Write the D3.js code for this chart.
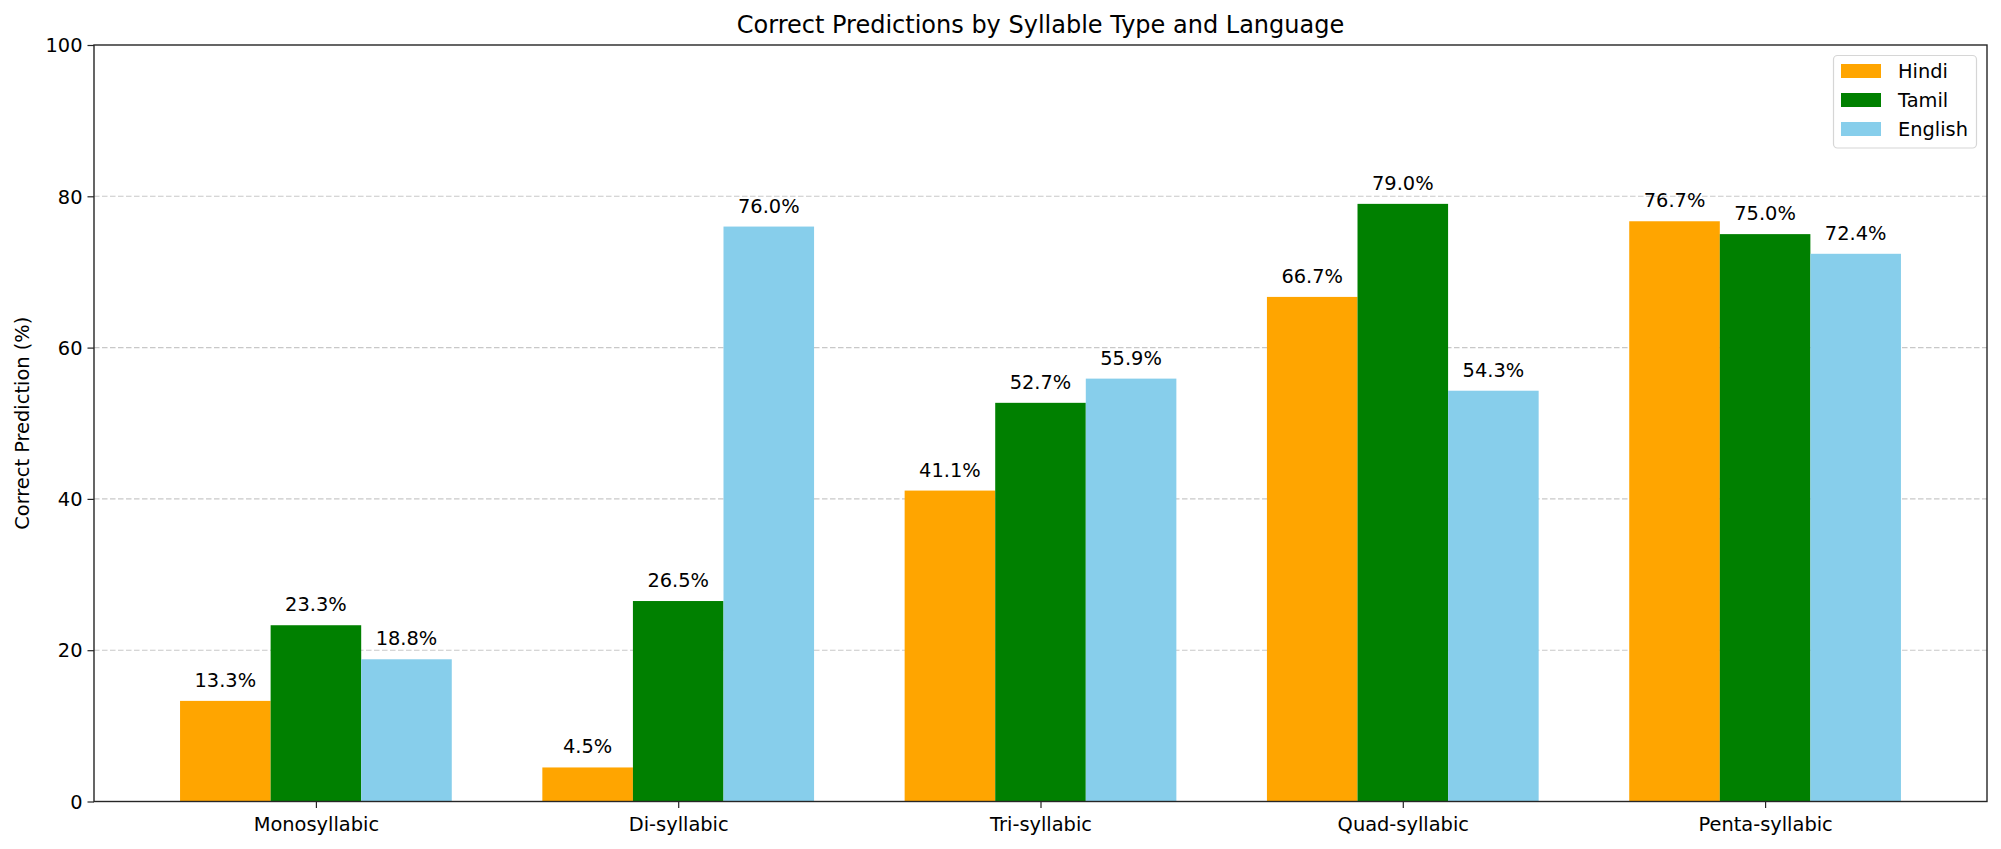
<!DOCTYPE html>
<html><head><meta charset="utf-8">
<script src="https://cdn.jsdelivr.net/npm/d3@7"></script>
<style>body{margin:0;background:#fff;} text{font-family:"DejaVu Sans",sans-serif;}</style>
</head><body>
<svg id="chart" width="2001" height="849"></svg>
<script>
const categories = ["Monosyllabic","Di-syllabic","Tri-syllabic","Quad-syllabic","Penta-syllabic"];
const seriesNames = ["Hindi","Tamil","English"];
const hindi = [13.3, 4.5, 41.1, 66.7, 76.7];
const tamil = [23.3, 26.5, 52.7, 79.0, 75.0];
const english = [18.8, 76.0, 55.9, 54.3, 72.4];
const colors = ["#FFA500","#008000","#87CEEB"];
const yTicks = [0,20,40,60,80,100];
const title = "Correct Predictions by Syllable Type and Language";
const yLabel = "Correct Prediction (%)";

const series = [hindi, tamil, english];
const svg = d3.select("#chart");
const L = 94, R = 1987, T = 45, B = 801.5;
const barW = 0.25;
const x = d3.scaleLinear().domain([-0.6125, 4.6125]).range([L, R]);
const y = d3.scaleLinear().domain([0, 100]).range([B, T]);
const fs = 19.4;

// grid
svg.append("g").selectAll("line").data(yTicks.filter(d => d > 0 && d < 100)).join("line")
  .attr("x1", L).attr("x2", R).attr("y1", d => y(d)).attr("y2", d => y(d))
  .attr("stroke", "#b0b0b0").attr("stroke-opacity", 0.7).attr("stroke-width", 1.1)
  .attr("stroke-dasharray", "5.5,2.5");

// bars
series.forEach((vals, si) => {
  const off = (si - 1) * barW;
  const g = svg.append("g");
  g.selectAll("rect").data(vals).join("rect")
    .attr("x", (d, i) => x(i + off - barW / 2))
    .attr("width", (d, i) => x(i + off + barW / 2) - x(i + off - barW / 2))
    .attr("y", d => y(d)).attr("height", d => B - y(d))
    .attr("fill", colors[si]);
  g.selectAll("text").data(vals).join("text")
    .attr("x", (d, i) => x(i + off)).attr("y", d => y(d) - 14)
    .attr("text-anchor", "middle").attr("font-size", fs).attr("fill", "#000")
    .text(d => d.toFixed(1) + "%");
});

// axes
const xAxis = d3.axisBottom(x).tickValues(d3.range(categories.length)).tickFormat(i => categories[i])
  .tickSize(6.5).tickPadding(5);
const gx = svg.append("g").attr("transform", `translate(0,${B})`).call(xAxis);
const yAxis = d3.axisLeft(y).tickValues(yTicks).tickSize(6.5).tickPadding(5);
const gy = svg.append("g").attr("transform", `translate(${L},0)`).call(yAxis);
[gx, gy].forEach(g => {
  g.select(".domain").remove();
  g.selectAll("line").attr("stroke", "#262626").attr("stroke-width", 1.2);
  g.selectAll("text").attr("font-size", fs).attr("fill", "#000").attr("font-family", "DejaVu Sans");
});
gx.selectAll("text").attr("dy", "0.95em");
gy.selectAll("text").attr("dy", "0.35em");

// frame
svg.append("rect").attr("x", L).attr("y", T).attr("width", R - L).attr("height", B - T)
  .attr("fill", "none").attr("stroke", "#262626").attr("stroke-width", 1.4);

// title
svg.append("text").attr("x", (L + R) / 2).attr("y", T - 12).attr("text-anchor", "middle")
  .attr("font-size", 24).attr("fill", "#000").text(title);
// y label
svg.append("text").attr("transform", `translate(29,${(T + B) / 2}) rotate(-90)`)
  .attr("text-anchor", "middle").attr("font-size", fs).attr("fill", "#000").text(yLabel);

// legend
const lg = svg.append("g");
lg.append("rect").attr("x", 1833.5).attr("y", 55.5).attr("width", 143).attr("height", 92.5)
  .attr("rx", 4).attr("fill", "#fff").attr("fill-opacity", 0.8).attr("stroke", "#d6d6d6").attr("stroke-width", 1.2);
seriesNames.forEach((n, i) => {
  lg.append("rect").attr("x", 1841).attr("y", 64 + i * 29).attr("width", 40).attr("height", 14).attr("fill", colors[i]);
  lg.append("text").attr("x", 1898).attr("y", 71 + i * 29).attr("dy", "0.35em").attr("font-size", fs).attr("fill", "#000").text(n);
});
</script>
</body></html>
